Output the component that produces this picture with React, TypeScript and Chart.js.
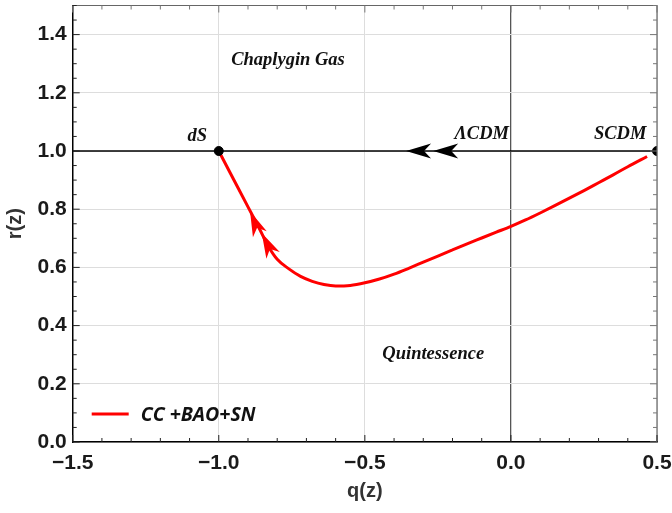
import React, { useEffect, useRef } from "react";
import { Chart, registerables } from "chart.js";

Chart.register(...registerables);

// Red trajectory (CC+BAO+SN) in the q–r plane
const curveQ = [-1.0, -0.95, -0.9, -0.86, -0.83, -0.8, -0.76, -0.72, -0.68, -0.64, -0.6, -0.55, -0.5, -0.45, -0.4, -0.35, -0.3, -0.25, -0.2, -0.15, -0.1, -0.05, 0.0, 0.05, 0.1, 0.15, 0.2, 0.25, 0.3, 0.35, 0.4, 0.466];
const curveR = [1.0, 0.904, 0.808, 0.731, 0.672, 0.628, 0.595, 0.569, 0.552, 0.541, 0.536, 0.538, 0.547, 0.56, 0.577, 0.597, 0.618, 0.639, 0.66, 0.681, 0.701, 0.721, 0.741, 0.763, 0.787, 0.812, 0.838, 0.864, 0.891, 0.918, 0.946, 0.981];
const curveLabel = "CC +BAO+SN";

// Fixed points (dS, SCDM)
const fixedPointQ = [-1.0, 0.5];
const fixedPointR = [1.0, 1.0];

// ΛCDM line r = 1
const lcdmLineQ = [-1.5, 0.5];
const lcdmLineR = [1.0, 1.0];

// Ticks
const xTickValues = [-1.5, -1.0, -0.5, 0.0, 0.5];
const yTickValues = [0.0, 0.2, 0.4, 0.6, 0.8, 1.0, 1.2, 1.4];

// Region / point labels (data coordinates: centre x, baseline y)
const regionLabels = ["dS", "ΛCDM", "SCDM", "Chaplygin Gas", "Quintessence"];
const regionLabelQ = [-1.074, -0.1, 0.374, -0.763, -0.266];
const regionLabelR = [1.035, 1.042, 1.042, 1.295, 0.284];

// Arrowheads (tip and a point behind it, data coordinates)
const redArrowTipQ = [-0.893, -0.853];
const redArrowTipR = [0.793, 0.718];
const redArrowTailQ = [-0.859, -0.817];
const redArrowTailR = [0.713, 0.647];
const blackArrowTipQ = [-0.359, -0.266];
const blackArrowTipR = [1.0, 1.0];
const blackArrowTailQ = [-0.27, -0.177];
const blackArrowTailR = [1.0, 1.0];

const fmt = (v: number) => (v < 0 ? "\u2212" + Math.abs(v).toFixed(1) : v.toFixed(1));

const overlayPlugin = {
  id: "overlay",
  afterDatasetsDraw(chart: any) {
    const ctx = chart.ctx as CanvasRenderingContext2D;
    const xs = chart.scales.x;
    const ys = chart.scales.y;
    const a = chart.chartArea;
    ctx.save();

    // arrowheads
    const arrow = (tq: number, tr: number, bq: number, br: number, color: string) => {
      const tx = xs.getPixelForValue(tq);
      const ty = ys.getPixelForValue(tr);
      const bx = xs.getPixelForValue(bq);
      const by = ys.getPixelForValue(br);
      const ang = Math.atan2(ty - by, tx - bx);
      const L = 25;
      const W = 7.5;
      ctx.save();
      ctx.translate(tx, ty);
      ctx.rotate(ang);
      ctx.beginPath();
      ctx.moveTo(0, 0);
      ctx.lineTo(-L, W);
      ctx.lineTo(-0.72 * L, 0);
      ctx.lineTo(-L, -W);
      ctx.closePath();
      ctx.fillStyle = color;
      ctx.fill();
      ctx.restore();
    };
    for (let i = 0; i < redArrowTipQ.length; i++) {
      arrow(redArrowTipQ[i], redArrowTipR[i], redArrowTailQ[i], redArrowTailR[i], "#ff0000");
    }
    for (let i = 0; i < blackArrowTipQ.length; i++) {
      arrow(blackArrowTipQ[i], blackArrowTipR[i], blackArrowTailQ[i], blackArrowTailR[i], "#000000");
    }

    // frame top / right
    ctx.strokeStyle = "#666";
    ctx.lineWidth = 1.2;
    ctx.beginPath();
    ctx.moveTo(a.left, a.top);
    ctx.lineTo(a.right, a.top);
    ctx.lineTo(a.right, a.bottom);
    ctx.stroke();

    // inward ticks
    const xmin = xs.min, xmax = xs.max;
    const nx = Math.round((xmax - xmin) / 0.1);
    for (let i = 0; i <= nx; i++) {
      const v = xmin + i * 0.1;
      const px = xs.getPixelForValue(v);
      const major = i % 5 === 0;
      const len = major ? 7 : 4;
      ctx.strokeStyle = "#222";
      ctx.lineWidth = 1;
      ctx.beginPath();
      ctx.moveTo(px, a.bottom);
      ctx.lineTo(px, a.bottom - len);
      ctx.stroke();
      ctx.strokeStyle = "#777";
      ctx.beginPath();
      ctx.moveTo(px, a.top);
      ctx.lineTo(px, a.top + len);
      ctx.stroke();
    }
    const ny = Math.round((ys.max - ys.min) / 0.05);
    for (let i = 0; i <= ny; i++) {
      const v = ys.min + i * 0.05;
      const py = ys.getPixelForValue(v);
      const major = i % 4 === 0;
      const len = major ? 7 : 4;
      ctx.strokeStyle = "#222";
      ctx.lineWidth = 1;
      ctx.beginPath();
      ctx.moveTo(a.left, py);
      ctx.lineTo(a.left + len, py);
      ctx.stroke();
      ctx.strokeStyle = "#777";
      ctx.beginPath();
      ctx.moveTo(a.right, py);
      ctx.lineTo(a.right - len, py);
      ctx.stroke();
    }

    // region labels
    ctx.fillStyle = "#111";
    ctx.font = "italic bold 18.5px 'Liberation Serif', 'Times New Roman', serif";
    ctx.textAlign = "center";
    ctx.textBaseline = "alphabetic";
    for (let i = 0; i < regionLabels.length; i++) {
      ctx.fillText(regionLabels[i], xs.getPixelForValue(regionLabelQ[i]), ys.getPixelForValue(regionLabelR[i]));
    }

    // legend
    const ly = a.bottom - 28;
    const lx = a.left + 19;
    ctx.strokeStyle = "#ff0000";
    ctx.lineWidth = 3;
    ctx.beginPath();
    ctx.moveTo(lx, ly);
    ctx.lineTo(lx + 37, ly);
    ctx.stroke();
    ctx.fillStyle = "#111";
    ctx.font = "italic bold 19.5px 'Open Sans', 'Noto Sans', sans-serif";
    ctx.textAlign = "left";
    ctx.textBaseline = "middle";
    ctx.fillText(chart.data.datasets[1].label, lx + 49, ly + 1);

    ctx.restore();
  },
};

const zeroPad = (s: any) => {
  s.paddingTop = 0;
  s.paddingBottom = 0;
  s.paddingLeft = 0;
  s.paddingRight = 0;
};

export default function App() {
  const ref = useRef<HTMLCanvasElement | null>(null);
  useEffect(() => {
    document.body.style.margin = "0";
    const canvas = ref.current;
    if (!canvas) return;
    const chart = new Chart(canvas, {
      type: "scatter",
      data: {
        datasets: [
          {
            label: "fixed points",
            data: fixedPointQ.map((q, i) => ({ x: q, y: fixedPointR[i] })),
            backgroundColor: "#000",
            borderColor: "#000",
            pointRadius: 4.5,
            showLine: false,
            clip: 0,
            order: 0,
          } as any,
          {
            label: curveLabel,
            data: curveQ.map((q, i) => ({ x: q, y: curveR[i] })),
            borderColor: "#ff0000",
            backgroundColor: "#ff0000",
            borderWidth: 3,
            pointRadius: 0,
            showLine: true,
            cubicInterpolationMode: "monotone",
            order: 1,
          } as any,
          {
            label: "r = 1",
            data: lcdmLineQ.map((q, i) => ({ x: q, y: lcdmLineR[i] })),
            borderColor: "#000",
            borderWidth: 1.6,
            pointRadius: 0,
            showLine: true,
            order: 2,
          } as any,
        ],
      },
      options: {
        animation: false,
        responsive: false,
        devicePixelRatio: 1,
        layout: { padding: { top: 3, right: 15, left: 0, bottom: 0 } },
        plugins: { legend: { display: false }, tooltip: { enabled: false } },
        scales: {
          x: {
            type: "linear",
            min: -1.5,
            max: 0.5,
            afterBuildTicks: (s: any) => {
              s.ticks = xTickValues.map((v) => ({ value: v }));
            },
            afterFit: (s: any) => {
              s.height = 71;
              zeroPad(s);
            },
            grid: {
              drawTicks: false,
              color: (c: any) => (c.tick && Math.abs(c.tick.value) < 1e-9 ? "#555" : "#dddddd"),
              lineWidth: (c: any) => (c.tick && Math.abs(c.tick.value) < 1e-9 ? 1.3 : 1),
            },
            border: { display: true, color: "#000", width: 1.5 },
            ticks: {
              padding: 9,
              color: "#1a1a1a",
              font: { family: "'Liberation Sans', Arial, sans-serif", size: 21, weight: "bold" },
              callback: (v: any) => fmt(Number(v)),
              maxRotation: 0,
              autoSkip: false,
            },
            title: {
              display: true,
              text: "q(z)",
              color: "#333",
              font: { family: "'Liberation Sans', Arial, sans-serif", size: 20, weight: "bold" },
              padding: { top: 0, bottom: 10 },
            },
          },
          y: {
            type: "linear",
            min: 0,
            max: 1.5,
            afterBuildTicks: (s: any) => {
              s.ticks = yTickValues.map((v) => ({ value: v }));
            },
            afterFit: (s: any) => {
              s.width = 72.7;
              zeroPad(s);
            },
            grid: { drawTicks: false, color: "#dddddd", lineWidth: 1 },
            border: { display: true, color: "#000", width: 1.5 },
            ticks: {
              padding: 6,
              color: "#1a1a1a",
              font: { family: "'Liberation Sans', Arial, sans-serif", size: 21, weight: "bold" },
              callback: (v: any) => fmt(Number(v)),
              autoSkip: false,
            },
            title: {
              display: true,
              text: "r(z)",
              color: "#333",
              font: { family: "'Liberation Sans', Arial, sans-serif", size: 20, weight: "bold" },
              padding: { top: 3, bottom: 0 },
            },
          },
        },
      } as any,
      plugins: [overlayPlugin],
    });
    return () => chart.destroy();
  }, []);
  return <canvas ref={ref} width={672} height={513} style={{ display: "block" }} />;
}
